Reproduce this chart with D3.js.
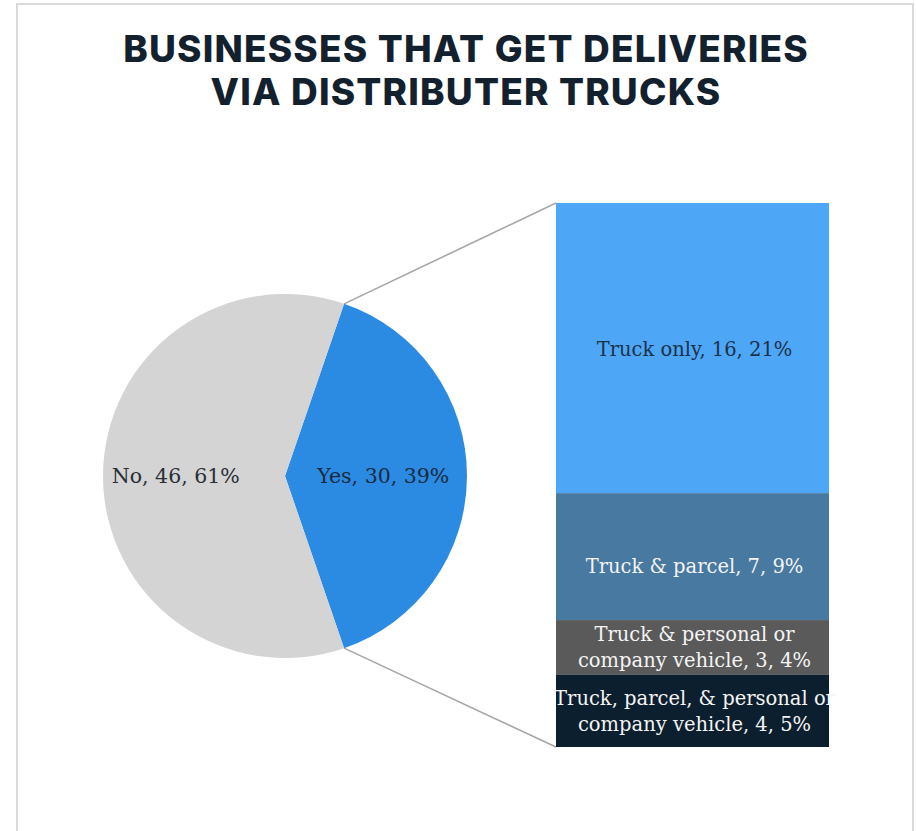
<!DOCTYPE html>
<html>
<head>
<meta charset="utf-8">
<script src="https://cdn.jsdelivr.net/npm/d3@7"></script>
<style>
  html, body { margin: 0; padding: 0; background: #ffffff; }
  svg { display: block; }
</style>
</head>
<body>
<svg id="chart" width="916" height="831"></svg>
<script>
// Main split: businesses receiving deliveries by distributor truck
const pieLabels = ["Yes", "No"];
const pieValues = [30, 46];
const piePercents = ["39%", "61%"];
const pieColors = ["#2b8ae2", "#d4d4d4"];

// Breakdown of the "Yes" slice, stacked from top to bottom
const barLabels = [
  ["Truck only, 16, 21%"],
  ["Truck & parcel, 7, 9%"],
  ["Truck & personal or", "company vehicle, 3, 4%"],
  ["Truck, parcel, & personal or", "company vehicle, 4, 5%"]
];
const barValues = [16, 7, 3, 4];
const barColors = ["#4ea7f6", "#4879a0", "#5a5a5a", "#0c1f2f"];
const barTextColors = ["#1b3149", "#f4f4f4", "#f4f4f4", "#f4f4f4"];

const titleLines = ["BUSINESSES THAT GET DELIVERIES", "VIA DISTRIBUTER TRUCKS"];

const svg = d3.select("#chart");
const serif = "'DejaVu Serif', 'Liberation Serif', serif";

// Card outline
svg.append("path")
  .attr("d", "M17,840 V4 H913 V840")
  .attr("fill", "none")
  .attr("stroke", "#d9d9d9")
  .attr("stroke-width", 2);

// Title
svg.append("g").selectAll("text")
  .data(titleLines)
  .join("text")
  .attr("x", 466)
  .attr("y", (d, i) => 62 + i * 43)
  .attr("text-anchor", "middle")
  .attr("font-family", "Inter, 'Open Sans', sans-serif")
  .attr("font-weight", 800)
  .attr("font-size", 37)
  .attr("letter-spacing", 1.2)
  .attr("fill", "#13212f")
  .text(d => d);

// Pie
const cx = 285, cy = 476, r = 182;
const total = d3.sum(pieValues);
const yesSpan = 2 * Math.PI * pieValues[0] / total;
const start = Math.PI / 2 - yesSpan / 2;

const pie = d3.pie().sort(null).value(d => d)
  .startAngle(start).endAngle(start + 2 * Math.PI);
const arcs = pie(pieValues);
const arc = d3.arc().innerRadius(0).outerRadius(r);

const pg = svg.append("g").attr("transform", `translate(${cx},${cy})`);
pg.selectAll("path")
  .data(arcs)
  .join("path")
  .attr("d", arc)
  .attr("fill", (d, i) => pieColors[i]);

const labelRadius = [0.54 * r, 0.6 * r];
pg.selectAll("text")
  .data(arcs)
  .join("text")
  .attr("transform", (d, i) => {
    const c = d3.arc().innerRadius(labelRadius[i]).outerRadius(labelRadius[i]).centroid(d);
    return `translate(${c[0]},${c[1]})`;
  })
  .attr("dy", "0.35em")
  .attr("text-anchor", "middle")
  .attr("font-family", serif)
  .attr("font-size", 20.5)
  .attr("fill", (d, i) => i === 0 ? "#172a40" : "#2a2f36")
  .text((d, i) => `${pieLabels[i]}, ${pieValues[i]}, ${piePercents[i]}`);

// Stacked bar for the "Yes" breakdown
const barX = 556, barW = 273;
const y = d3.scaleLinear().domain([0, d3.sum(barValues)]).range([203, 747]);
const cum = d3.cumsum([0, ...barValues]);
const segs = barValues.map((v, i) => ({ v, y0: cum[i], y1: cum[i + 1], i }));

// Connector lines from the slice edges to the bar corners
const edge = a => [cx + r * Math.sin(a), cy - r * Math.cos(a)];
const pTop = edge(arcs[0].startAngle);
const pBot = edge(arcs[0].endAngle);
svg.append("g").selectAll("line")
  .data([[pTop, [barX, y(0)]], [pBot, [barX, y(d3.sum(barValues))]]])
  .join("line")
  .attr("x1", d => d[0][0]).attr("y1", d => d[0][1])
  .attr("x2", d => d[1][0]).attr("y2", d => d[1][1])
  .attr("stroke", "#a6a6a6")
  .attr("stroke-width", 1.6);

const bg = svg.append("g");
bg.selectAll("rect")
  .data(segs)
  .join("rect")
  .attr("x", barX)
  .attr("width", barW)
  .attr("y", d => y(d.y0))
  .attr("height", d => y(d.y1) - y(d.y0))
  .attr("fill", d => barColors[d.i]);

// Label placement tweaks (px, vertical) for each segment
const labelShift = [1, 10, 0, 0];
const lineH = 26;
bg.selectAll("text")
  .data(segs)
  .join("text")
  .attr("x", barX + barW / 2 + 2)
  .attr("y", d => (y(d.y0) + y(d.y1)) / 2 + labelShift[d.i] - (barLabels[d.i].length - 1) * lineH / 2)
  .attr("text-anchor", "middle")
  .attr("font-family", serif)
  .attr("font-size", 19.5)
  .attr("fill", d => barTextColors[d.i])
  .selectAll("tspan")
  .data(d => barLabels[d.i].map((t, k) => ({ t, k })))
  .join("tspan")
  .attr("x", barX + barW / 2 + 2)
  .attr("dy", d => d.k === 0 ? "0.35em" : lineH)
  .text(d => d.t);
</script>
</body>
</html>
